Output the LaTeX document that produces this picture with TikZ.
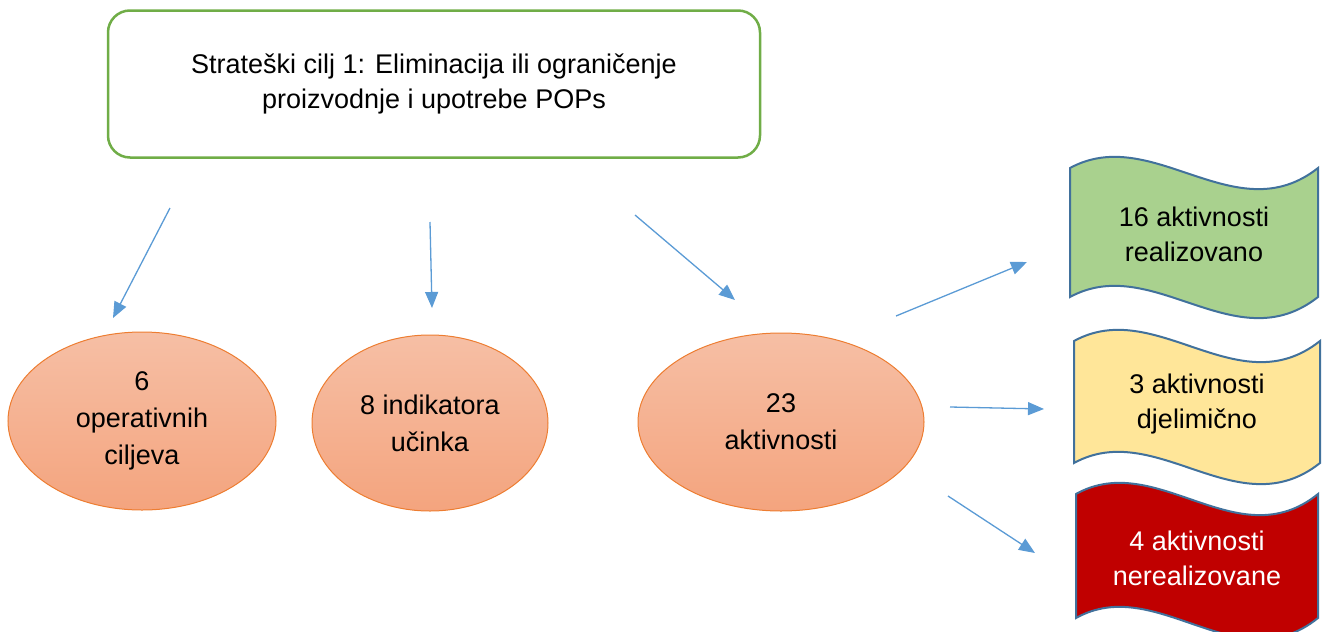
\documentclass[tikz,border=0pt]{standalone}
\usepackage{fontspec}
\setmainfont{Liberation Sans}
\usepackage{xcolor}
\definecolor{xgreen}{HTML}{70AD47}
\definecolor{xblue}{HTML}{5B9BD5}
\definecolor{xorange}{HTML}{ED7D31}
\definecolor{xsalmontop}{HTML}{F6BFA5}
\definecolor{xsalmonbot}{HTML}{F4A47E}
\definecolor{xslate}{HTML}{41719C}
\definecolor{xleaf}{HTML}{A9D18E}
\definecolor{xsand}{HTML}{FFE699}
\definecolor{xred}{HTML}{C00000}
\usepackage{tikz}
\usetikzlibrary{shapes.geometric, arrows.meta}
\newcommand{\diagfont}{\fontsize{27}{35}\selectfont}
\tikzset{
  %% Styles %%
  goalbox/.style = {draw=xgreen, line width=2.5pt, rounded corners=22pt,
    minimum width=652pt, minimum height=147pt, align=center, font=\diagfont},
  countnode/.style = {ellipse, draw=xorange, line width=1pt,
    top color=xsalmontop, bottom color=xsalmonbot, inner sep=0pt,
    align=center, font=\fontsize{27}{37}\selectfont},
  link/.style = {xblue, line width=1.3pt, -{Triangle[length=16pt, width=13pt]}},
  pics/wave/.style n args = {5}{
      code = {
          % Flag outline
          \path[draw=xslate, line width=2pt, fill=#3]
            (0,0) .. controls ({#1/3},-45) and ({2*#1/3},65) .. (#1,0)
            -- (#1,#2) .. controls ({2*#1/3},{#2+65}) and ({#1/3},{#2-45}) .. (0,#2)
            -- cycle;
          % Label
          \node[text=#4, align=center, font=\diagfont] (-txt) at ({#1/2},{#2/2+2}) {#5};
      }
  }
}

\begin{document}
\begin{tikzpicture}[x=1pt, y=-1pt]
  \useasboundingbox (0,0) rectangle (1323,632);

  % Strategic goal
  \node[goalbox] (goal) at (434,84)
    {Strateški cilj 1: Eliminacija ili ograničenje\\proizvodnje i upotrebe POPs};

  % Counts
  \node[countnode, minimum width=268pt, minimum height=178pt] (ops) at (142,421) {6\\operativnih\\ciljeva};
  \node[countnode, minimum width=236pt, minimum height=176pt] (ind) at (430,423) {8 indikatora\\učinka};
  \node[countnode, minimum width=286pt, minimum height=178pt] (act) at (781,422) {23\\aktivnosti};

  % Outcomes
  \pic (done) at (1070,168) {wave={248}{129}{xleaf}{black}{16 aktivnosti\\realizovano}};
  \pic (part) at (1074,341) {wave={246}{122}{xsand}{black}{3 aktivnosti\\djelimično}};
  \pic (none) at (1076,494) {wave={242}{124}{xred}{white}{4 aktivnosti\\nerealizovane}};

  % Arrow ends
  \coordinate (s1) at (170,208);  \coordinate (t1) at (113,318);
  \coordinate (s2) at (430,222);  \coordinate (t2) at (432,308);
  \coordinate (s3) at (635,215);  \coordinate (t3) at (735,300);
  \coordinate (s4) at (896,316);  \coordinate (t4) at (1027,262);
  \coordinate (s5) at (950,407);  \coordinate (t5) at (1044,409);
  \coordinate (s6) at (948,496);  \coordinate (t6) at (1035,553);

  \foreach \k in {1,...,6}
    \draw[link] (s\k) -- (t\k);
\end{tikzpicture}
\end{document}
